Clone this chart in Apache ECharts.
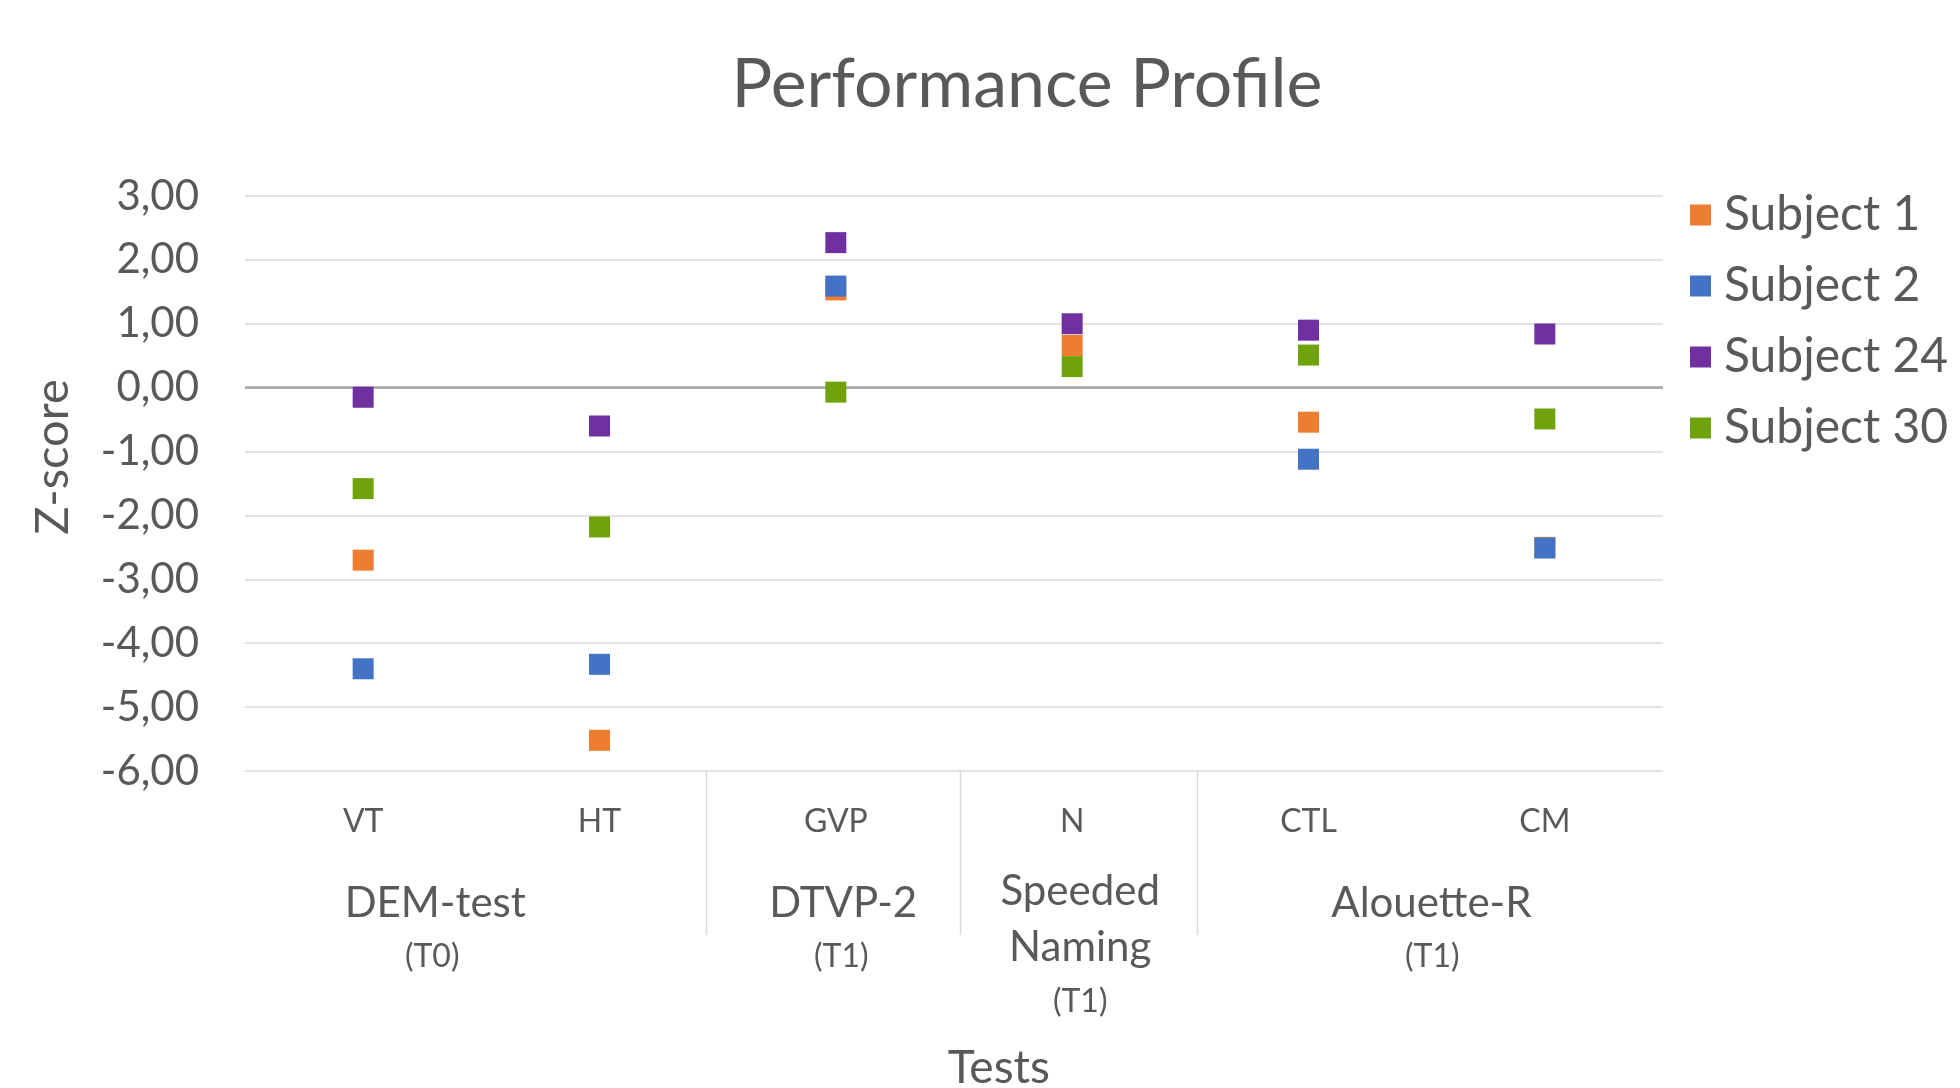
<!DOCTYPE html>
<html>
<head>
<meta charset="utf-8">
<script src="https://cdn.jsdelivr.net/npm/echarts@6/dist/echarts.min.js"></script>
<style>
html,body{margin:0;padding:0;background:#fff;}
#chart{width:1960px;height:1088px;}
</style>
</head>
<body>
<div id="chart"></div>
<script>
// ---- data ----
const categories = ['VT', 'HT', 'GVP', 'N', 'CTL', 'CM'];
const seriesNames = ['Subject 1', 'Subject 2', 'Subject 24', 'Subject 30'];
const subject1  = [-2.70, -5.52, 1.53, 0.66, -0.54, -2.50];
const subject2  = [-4.40, -4.33, 1.59, null, -1.12, -2.51];
const subject24 = [-0.15, -0.60, 2.27, 1.00, 0.90, 0.84];
const subject30 = [-1.58, -2.18, -0.07, 0.33, 0.51, -0.49];
const yMin = -6, yMax = 3, yStep = 1;
const groupLabels = [
  { lines: ['DEM-test', '(T0)'] },
  { lines: ['DTVP-2', '(T1)'] },
  { lines: ['Speeded', 'Naming', '(T1)'] },
  { lines: ['Alouette-R', '(T1)'] }
];

// ---- styles ----
const FONT = 'Lato';
const TXT = '#595959';
const colors = ['#ED7D31', '#4472C4', '#7030A0', '#70A20C'];

const chart = echarts.init(document.getElementById('chart'));
const allData = [subject1, subject2, subject24, subject30];

const option = {
  backgroundColor: '#fff',
  animation: false,
  title: {
    text: 'Performance Profile',
    left: 1022, top: 46, textAlign: 'center',
    textStyle: { fontFamily: FONT, fontSize: 68, fontWeight: 'normal', color: TXT }
  },
  legend: {
    orient: 'vertical',
    left: 1685, top: 186,
    itemWidth: 21, itemHeight: 21, itemGap: 23,
    icon: 'rect',
    data: seriesNames,
    textStyle: { fontFamily: FONT, fontSize: 48, color: TXT, padding: [0, 0, 0, 8] }
  },
  grid: { left: 245, right: 297, top: 196, bottom: 317, containLabel: false },
  xAxis: {
    type: 'category',
    data: categories,
    boundaryGap: true,
    axisLine: { show: false, onZero: false },
    axisTick: { show: false },
    splitLine: { show: false },
    axisLabel: { fontFamily: FONT, fontSize: 32, color: TXT, margin: 51, verticalAlign: 'middle' }
  },
  yAxis: {
    type: 'value',
    min: yMin, max: yMax, interval: yStep,
    axisLine: { show: false },
    axisTick: { show: false },
    splitLine: { lineStyle: { color: '#D9D9D9', width: 1.5 } },
    axisLabel: {
      fontFamily: FONT, fontSize: 42, color: TXT, margin: 46,
      formatter: v => v.toFixed(2).replace('.', ',')
    }
  },
  series: seriesNames.map((name, i) => ({
    name: name,
    type: 'scatter',
    symbol: 'rect',
    symbolSize: 21,
    itemStyle: { color: colors[i], opacity: 1 },
    data: allData[i],
    z: 3 + i,
    markLine: i === 0 ? {
      silent: true, symbol: 'none', label: { show: false },
      lineStyle: { color: '#A6A6A6', width: 2.5, type: 'solid' },
      data: [{ yAxis: 0 }],
      z: 2
    } : undefined
  }))
};
chart.setOption(option);

// ---- decorations positioned from the axis scale ----
function xAt(f) {
  const i = Math.floor(f);
  const a = chart.convertToPixel({ xAxisIndex: 0 }, i);
  const b = chart.convertToPixel({ xAxisIndex: 0 }, i + 1);
  return a + (b - a) * (f - i);
}
const yBottom = chart.convertToPixel({ yAxisIndex: 0 }, yMin);
const layout = {
  separators: [1.45, 2.526, 3.529],
  groups: [
    { pos: [0.305, 0.292], y: [903, 957], size: [42, 32] },
    { pos: [2.031, 2.023], y: [903, 957], size: [42, 32] },
    { pos: [3.034, 3.034, 3.034], y: [891, 947, 1002], size: [42, 42, 32] },
    { pos: [4.52, 4.524], y: [903, 957], size: [42, 32] }
  ]
};
const graphics = [];
layout.separators.forEach(f => {
  const x = Math.round(xAt(f)) + 0.5;
  graphics.push({ type: 'line', shape: { x1: x, y1: yBottom, x2: x, y2: 935 },
    style: { stroke: '#D9D9D9', lineWidth: 1.5 }, silent: true });
});
groupLabels.forEach((g, gi) => {
  const L = layout.groups[gi];
  g.lines.forEach((t, li) => {
    graphics.push({ type: 'text', x: xAt(L.pos[li]), y: L.y[li], silent: true,
      style: { text: t, fontFamily: FONT, fontSize: L.size[li], fill: TXT,
        textAlign: 'center', textVerticalAlign: 'middle' } });
  });
});
graphics.push({ type: 'text', x: xAt(2.69), y: 1068, silent: true,
  style: { text: 'Tests', fontFamily: FONT, fontSize: 46, fill: TXT, textAlign: 'center', textVerticalAlign: 'middle' } });
graphics.push({ type: 'text', x: 53, y: 457, rotation: Math.PI / 2, silent: true,
  style: { text: 'Z-score', fontFamily: FONT, fontSize: 47, fill: TXT, textAlign: 'center', textVerticalAlign: 'middle' } });
chart.setOption({ graphic: graphics });
</script>
</body>
</html>
